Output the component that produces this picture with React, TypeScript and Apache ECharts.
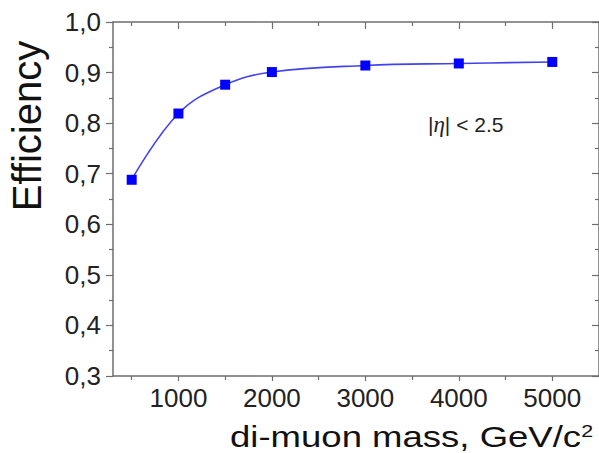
import React, { useEffect, useRef } from 'react';
import * as echarts from 'echarts';

const massValues = [500, 1000, 1500, 2000, 3000, 4000, 5000];
const efficiencyValues = [0.688, 0.819, 0.876, 0.901, 0.914, 0.918, 0.921];
const xMajorTicks = [1000, 2000, 3000, 4000, 5000];
const xMinorTicks = [500, 1500, 2500, 3500, 4500];
const xTitle = 'di-muon mass, GeV/c';
const yTitle = 'Efficiency';

const AXIS_COLOR = '#6e6e6e';
const FONT = '"Liberation Sans", Arial, Helvetica, sans-serif';

export default function App() {
  const ref = useRef<HTMLDivElement>(null);
  useEffect(() => {
    document.body.style.margin = '0';
    const chart = echarts.init(ref.current!, null, { renderer: 'svg' });
    const xBase = {
      type: 'value',
      min: 300,
      max: 5500,
      splitLine: { show: false },
    };
    const yBase = {
      type: 'value',
      min: 0.3,
      max: 1.0,
      interval: 0.1,
      splitLine: { show: false },
    };
    const data = massValues.map((m, i) => [m, efficiencyValues[i]]);
    chart.setOption({
      animation: false,
      backgroundColor: '#ffffff',
      grid: { left: 113, top: 22, width: 488, height: 354 },
      xAxis: [
        {
          ...xBase,
          position: 'bottom',
          axisLine: { show: true, lineStyle: { color: AXIS_COLOR, width: 1.5 } },
          axisTick: { show: true, customValues: xMajorTicks, length: 5, lineStyle: { color: AXIS_COLOR, width: 1.2 } },
          axisLabel: {
            customValues: xMajorTicks,
            margin: 9,
            fontSize: 26,
            fontFamily: FONT,
            color: '#222',
            formatter: (v: number) => String(v),
          },
        },
        {
          ...xBase,
          position: 'bottom',
          axisLine: { show: false },
          axisTick: { show: true, customValues: xMinorTicks, length: 4, lineStyle: { color: AXIS_COLOR, width: 1.2 } },
          axisLabel: { show: false },
        },
        {
          ...xBase,
          position: 'top',
          axisLine: { show: true, lineStyle: { color: AXIS_COLOR, width: 1.5 } },
          axisTick: { show: true, inside: true, customValues: xMajorTicks, length: 7, lineStyle: { color: AXIS_COLOR, width: 1.2 } },
          axisLabel: { show: false },
        },
        {
          ...xBase,
          position: 'top',
          axisLine: { show: false },
          axisTick: { show: true, inside: true, customValues: xMinorTicks, length: 4, lineStyle: { color: AXIS_COLOR, width: 1.2 } },
          axisLabel: { show: false },
        },
      ],
      yAxis: [
        {
          ...yBase,
          position: 'left',
          axisLine: { show: true, lineStyle: { color: AXIS_COLOR, width: 1.5 } },
          axisTick: { show: true, length: 7, lineStyle: { color: AXIS_COLOR, width: 1.2 } },
          minorTick: { show: true, splitNumber: 2, length: 4, lineStyle: { color: AXIS_COLOR, width: 1.2 } },
          axisLabel: {
            margin: 12,
            fontSize: 26,
            fontFamily: FONT,
            color: '#222',
            formatter: (v: number) => v.toFixed(1).replace('.', ','),
          },
        },
        {
          ...yBase,
          position: 'right',
          axisLine: { show: true, lineStyle: { color: AXIS_COLOR, width: 1.5 } },
          axisTick: { show: true, inside: true, length: 7, lineStyle: { color: AXIS_COLOR, width: 1.2 } },
          minorTick: { show: true, splitNumber: 2, length: 4, lineStyle: { color: AXIS_COLOR, width: 1.2 } },
          axisLabel: { show: false },
        },
      ],
      series: [
        {
          type: 'line',
          xAxisIndex: 0,
          yAxisIndex: 0,
          data,
          smooth: 0.4,
          symbol: 'rect',
          symbolSize: 10,
          lineStyle: { color: '#4343ee', width: 1.6 },
          itemStyle: { color: '#0000ff' },
        },
      ],
      graphic: [
        {
          type: 'text',
          x: 27,
          y: 126,
          rotation: Math.PI / 2,
          style: {
            text: yTitle,
            fontSize: 40,
            fontFamily: FONT,
            fill: '#111',
            textAlign: 'center',
            textVerticalAlign: 'middle',
          },
        },
        {
          type: 'text',
          x: 230,
          y: 437,
          scaleX: 1.26,
          style: {
            text: xTitle + '{sup|2}',
            fontSize: 29,
            fontFamily: FONT,
            fill: '#111',
            textAlign: 'left',
            textVerticalAlign: 'middle',
            rich: {
              sup: { fontSize: 17, fontFamily: FONT, fill: '#111', verticalAlign: 'top' },
            },
          },
        },
        {
          type: 'text',
          x: 428,
          y: 124,
          style: {
            text: '|{eta|η}| < 2.5',
            fontSize: 21,
            fontFamily: FONT,
            fill: '#222',
            textAlign: 'left',
            textVerticalAlign: 'middle',
            rich: {
              eta: { fontSize: 23, fontFamily: '"Liberation Serif", "DejaVu Serif", serif', fontStyle: 'italic', fill: '#222' },
            },
          },
        },
      ],
    });
    return () => chart.dispose();
  }, []);
  return <div ref={ref} style={{ width: 599, height: 453 }} />;
}
